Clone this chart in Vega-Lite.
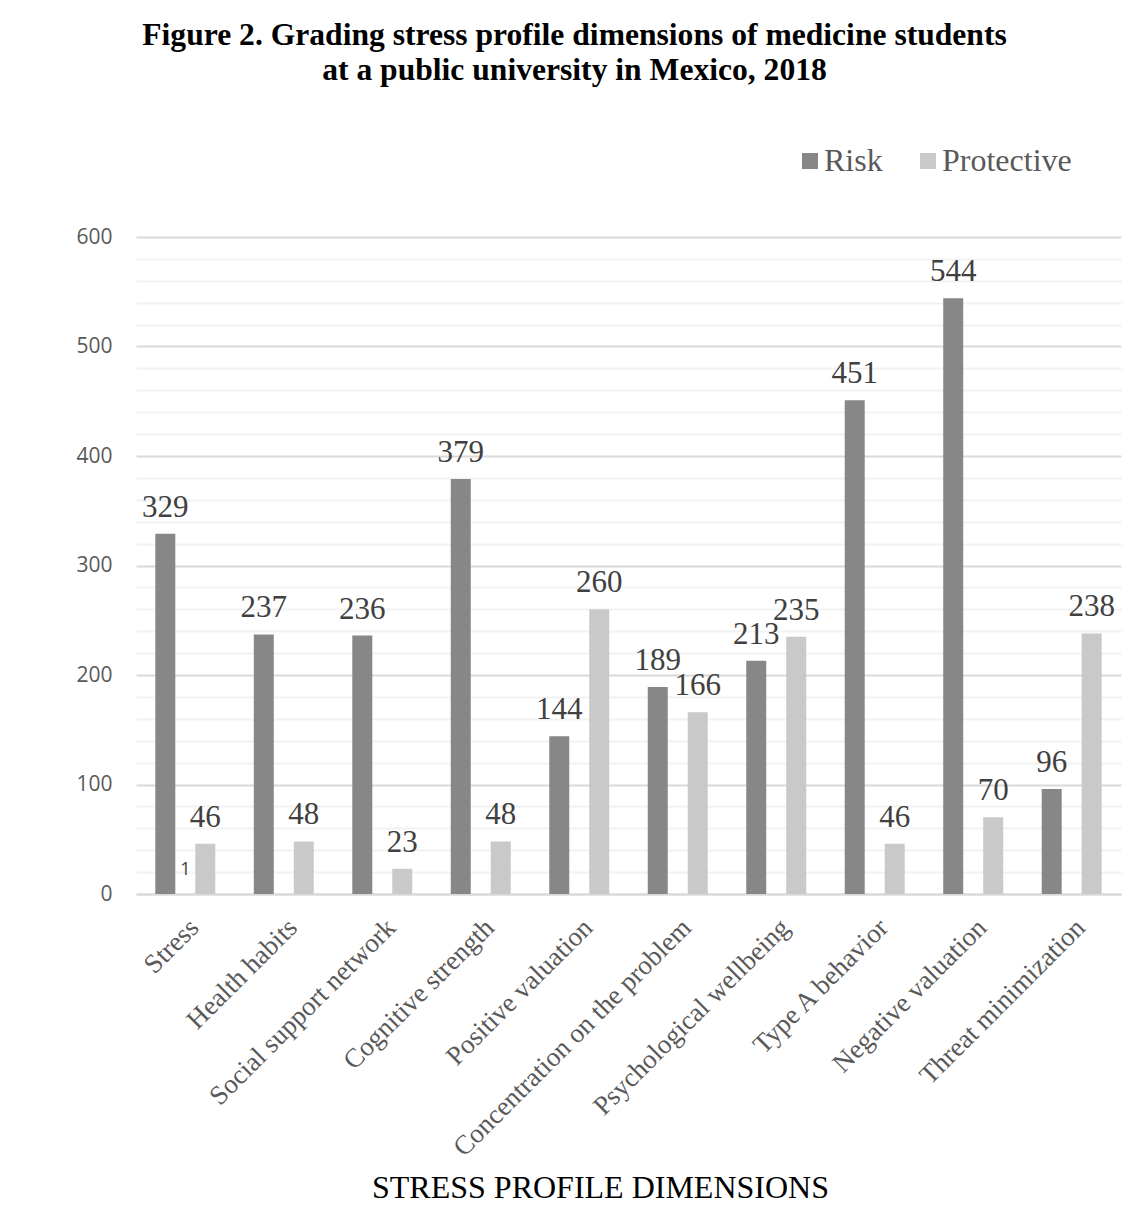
{
  "$schema": "https://vega.github.io/schema/vega-lite/v6.json",
  "autosize": {"type": "none"},
  "width": 985,
  "height": 657,
  "padding": {"left": 136, "top": 237, "right": 12, "bottom": 329},
  "background": "white",
  "config": {"view": {"stroke": null}},
  "title": {
    "text": ["Figure 2. Grading stress profile dimensions of medicine students", "at a public university in Mexico, 2018"],
    "font": "Liberation Serif",
    "fontSize": 31.6,
    "fontWeight": "bold",
    "color": "#000000",
    "lineHeight": 35,
    "anchor": "middle",
    "frame": "group",
    "dx": -54,
    "offset": 58
  },
  "datasets": {
    "bars": [
      {"dimension": "Stress", "series": "Risk", "value": 329},
      {"dimension": "Stress", "series": "Protective", "value": 46},
      {"dimension": "Health habits", "series": "Risk", "value": 237},
      {"dimension": "Health habits", "series": "Protective", "value": 48},
      {"dimension": "Social support network", "series": "Risk", "value": 236},
      {"dimension": "Social support network", "series": "Protective", "value": 23},
      {"dimension": "Cognitive strength", "series": "Risk", "value": 379},
      {"dimension": "Cognitive strength", "series": "Protective", "value": 48},
      {"dimension": "Positive valuation", "series": "Risk", "value": 144},
      {"dimension": "Positive valuation", "series": "Protective", "value": 260},
      {"dimension": "Concentration on the problem", "series": "Risk", "value": 189},
      {"dimension": "Concentration on the problem", "series": "Protective", "value": 166},
      {"dimension": "Psychological wellbeing", "series": "Risk", "value": 213},
      {"dimension": "Psychological wellbeing", "series": "Protective", "value": 235},
      {"dimension": "Type A behavior", "series": "Risk", "value": 451},
      {"dimension": "Type A behavior", "series": "Protective", "value": 46},
      {"dimension": "Negative valuation", "series": "Risk", "value": 544},
      {"dimension": "Negative valuation", "series": "Protective", "value": 70},
      {"dimension": "Threat minimization", "series": "Risk", "value": 96},
      {"dimension": "Threat minimization", "series": "Protective", "value": 238}
    ],
    "note": [
      {"dimension": "Stress", "value": 1, "label": "1"}
    ]
  },
  "layer": [
    {
      "data": {"name": "bars"},
      "mark": {"type": "bar"},
      "encoding": {
        "x": {
          "field": "dimension",
          "type": "nominal",
          "sort": null,
          "scale": {"paddingInner": 0.391, "paddingOuter": 0.196},
          "axis": {
            "title": "STRESS PROFILE DIMENSIONS",
            "titleFont": "Liberation Serif",
            "titleFontSize": 32,
            "titleFontWeight": "normal",
            "titleColor": "#000000",
            "titleX": 464,
            "titleY": 303,
            "titleAlign": "center",
            "titleBaseline": "alphabetic",
            "labelFont": "Liberation Serif",
            "labelFontSize": 27,
            "labelColor": "#595959",
            "labelAngle": -45,
            "labelPadding": 20,
            "labelLimit": 400,
            "ticks": false,
            "domain": true,
            "domainColor": "#d9d9d9",
            "domainWidth": 2
          }
        },
        "xOffset": {
          "field": "series",
          "type": "nominal",
          "sort": ["Risk", "Protective"],
          "scale": {"paddingInner": 0.5, "paddingOuter": 0}
        },
        "y": {
          "field": "value",
          "type": "quantitative",
          "scale": {"domain": [0, 600], "nice": false},
          "axis": {
            "title": null,
            "values": [0, 20, 40, 60, 80, 100, 120, 140, 160, 180, 200, 220, 240, 260, 280, 300, 320, 340, 360, 380, 400, 420, 440, 460, 480, 500, 520, 540, 560, 580, 600],
            "tickCount": 100,
            "labelExpr": "datum.value % 100 === 0 ? datum.label : ''",
            "labelOverlap": false,
            "labelFont": "Open Sans",
            "labelFontSize": 21,
            "labelColor": "#595959",
            "labelPadding": 24,
            "ticks": false,
            "domain": false,
            "grid": true,
            "gridWidth": 2,
            "gridColor": {"condition": {"test": "datum.value % 100 === 0", "value": "#d9d9d9"}, "value": "#f2f2f2"}
          }
        },
        "color": {
          "field": "series",
          "type": "nominal",
          "sort": ["Risk", "Protective"],
          "scale": {"domain": ["Risk", "Protective"], "range": ["#878787", "#c9c9c9"]},
          "legend": {
            "title": null,
            "orient": "none",
            "direction": "horizontal",
            "legendX": 658,
            "legendY": -92,
            "symbolType": "square",
            "symbolSize": 256,
            "symbolStrokeWidth": 0,
            "labelFont": "Liberation Serif",
            "labelFontSize": 32,
            "labelColor": "#595959",
            "labelOffset": -2,
            "columnPadding": 29
          }
        }
      }
    },
    {
      "data": {"name": "bars"},
      "mark": {"type": "text", "font": "Liberation Serif", "fontSize": 31, "color": "#404040", "baseline": "alphabetic", "dy": -17},
      "encoding": {
        "x": {"field": "dimension", "type": "nominal", "sort": null},
        "xOffset": {"field": "series", "type": "nominal", "sort": ["Risk", "Protective"]},
        "y": {"field": "value", "type": "quantitative"},
        "text": {"field": "value", "type": "quantitative"}
      }
    },
    {
      "data": {"name": "note"},
      "mark": {"type": "text", "font": "Open Sans", "fontSize": 18, "color": "#404040", "baseline": "alphabetic", "dy": -18},
      "encoding": {
        "x": {"field": "dimension", "type": "nominal", "sort": null},
        "y": {"field": "value", "type": "quantitative"},
        "text": {"field": "label", "type": "nominal"}
      }
    }
  ]
}
